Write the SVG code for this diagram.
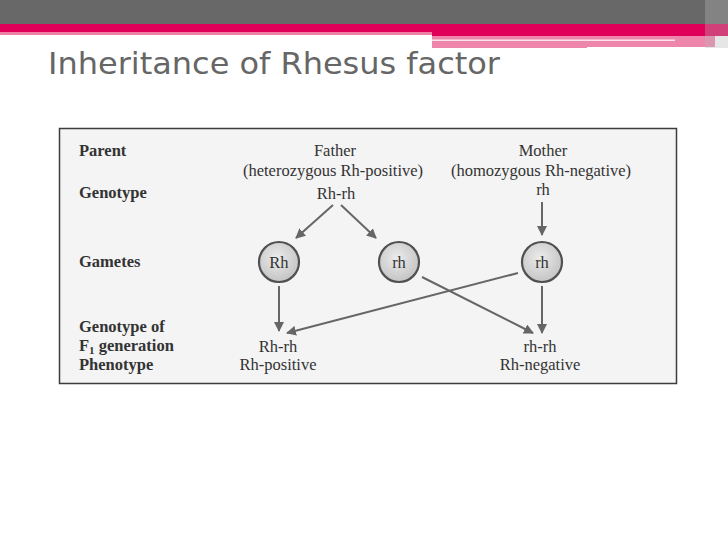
<svg xmlns="http://www.w3.org/2000/svg" width="728" height="546" viewBox="0 0 728 546">
<defs>
<style>
.lbl{font-family:"Liberation Serif","Times New Roman",serif;font-size:16.5px;fill:#333333}
.b{font-weight:bold}
.c{text-anchor:middle}
.con{stroke:#666666;stroke-width:2;fill:none}
.gam{stroke:#505050;stroke-width:2.2}
</style>
<radialGradient id="gg" cx="0.45" cy="0.4" r="0.6">
<stop offset="0" stop-color="#ececec"/>
<stop offset="1" stop-color="#c4c4c4"/>
</radialGradient>
<marker id="ah" viewBox="0 0 10 10" refX="9" refY="5" markerWidth="5" markerHeight="5" orient="auto" markerUnits="strokeWidth">
<path d="M0,0 L10,5 L0,10 z" fill="#666666"/>
</marker>
</defs>
<rect width="728" height="546" fill="#ffffff"/>
<!-- header -->
<rect x="0" y="0" width="728" height="24" fill="#686868"/>
<rect x="0" y="24" width="728" height="8" fill="#e0005a"/>
<rect x="0" y="32" width="432" height="3" fill="#ee7fa6"/>
<rect x="432" y="32" width="296" height="4" fill="#e0005a"/>
<rect x="432" y="36" width="283" height="12" fill="#ee86ab"/>
<rect x="432" y="39.5" width="243" height="1.5" fill="#fbe3ec"/>
<rect x="587" y="47" width="128" height="2" fill="#ffffff"/>
<rect x="705" y="0" width="23" height="48" fill="#b8b8b8" opacity="0.35"/>
<text x="48" y="74" font-family="'DejaVu Sans Condensed','DejaVu Sans',sans-serif" font-size="31" fill="#666666" textLength="452" lengthAdjust="spacingAndGlyphs">Inheritance of Rhesus factor</text>
<!-- figure box -->
<rect x="59.5" y="128.5" width="617" height="255" fill="#f4f4f4" stroke="#3c3c3c" stroke-width="1.5"/>
<g id="row-labels">
<text class="lbl b" x="79" y="156">Parent</text>
<text class="lbl b" x="79" y="198">Genotype</text>
<text class="lbl b" x="79" y="267">Gametes</text>
<text class="lbl b" x="79" y="332">Genotype of</text>
<text class="lbl b" x="79" y="351">F<tspan font-size="11" dy="3">1</tspan><tspan dy="-3"> generation</tspan></text>
<text class="lbl b" x="79" y="370">Phenotype</text>
</g>
<g id="father">
<text class="lbl c" x="335" y="156">Father</text>
<text class="lbl c" x="333" y="176">(heterozygous Rh-positive)</text>
<text class="lbl c" x="336" y="199">Rh-rh</text>
</g>
<g id="mother">
<text class="lbl c" x="543" y="156">Mother</text>
<text class="lbl c" x="541" y="176">(homozygous Rh-negative)</text>
<text class="lbl c" x="543" y="195">rh</text>
</g>
<g id="gamete-Rh">
<circle class="gam" cx="279" cy="262" r="20" fill="url(#gg)"/>
<text class="lbl c" x="279" y="268">Rh</text>
</g>
<g id="gamete-rh-father">
<circle class="gam" cx="399" cy="262" r="20" fill="url(#gg)"/>
<text class="lbl c" x="399" y="268">rh</text>
</g>
<g id="gamete-rh-mother">
<circle class="gam" cx="542" cy="262" r="20" fill="url(#gg)"/>
<text class="lbl c" x="542" y="268">rh</text>
</g>
<g id="offspring-positive">
<text class="lbl c" x="278" y="352">Rh-rh</text>
<text class="lbl c" x="278" y="370">Rh-positive</text>
</g>
<g id="offspring-negative">
<text class="lbl c" x="540" y="352">rh-rh</text>
<text class="lbl c" x="540" y="370">Rh-negative</text>
</g>
<g id="connectors">
<line class="con" x1="333" y1="205" x2="296" y2="238" marker-end="url(#ah)"/>
<line class="con" x1="341" y1="205" x2="376" y2="238" marker-end="url(#ah)"/>
<line class="con" x1="542" y1="202" x2="542" y2="235" marker-end="url(#ah)"/>
<line class="con" x1="279" y1="286" x2="279" y2="331" marker-end="url(#ah)"/>
<line class="con" x1="518" y1="273" x2="287" y2="333" marker-end="url(#ah)"/>
<line class="con" x1="422" y1="277" x2="533" y2="333" marker-end="url(#ah)"/>
<line class="con" x1="542" y1="286" x2="542" y2="333" marker-end="url(#ah)"/>
</g>
</svg>
